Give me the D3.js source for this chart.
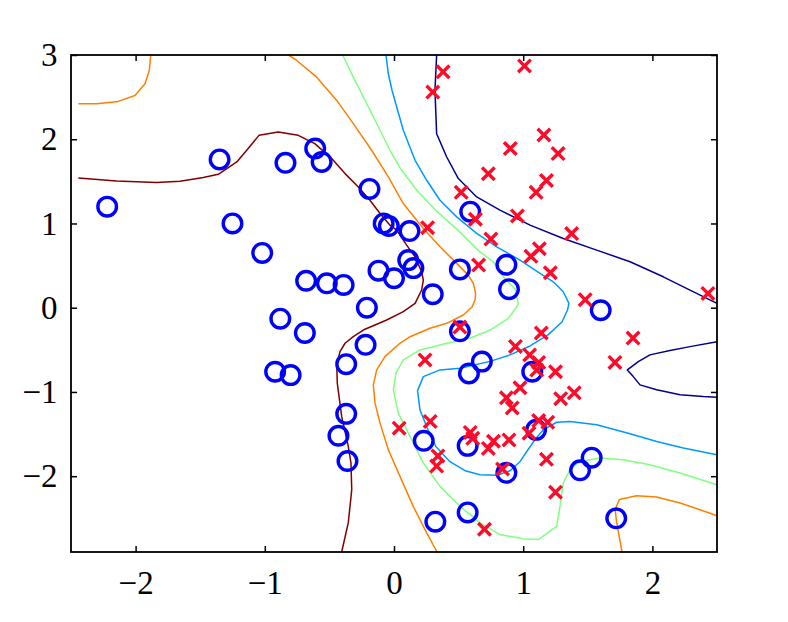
<!DOCTYPE html>
<html><head><meta charset="utf-8">
<script src="https://cdn.jsdelivr.net/npm/d3@7"></script>
<style>html,body{margin:0;padding:0;background:#fff;}</style>
</head><body>
<svg id="chart" width="788" height="622"></svg>
<script>
// ---- data ----
const xTicks = [-2, -1, 0, 1, 2];
const yTicks = [-2, -1, 0, 1, 2, 3];

const classA = [ // blue circles
[-2.22,1.20],[-1.35,1.76],[-1.25,1.00],[-1.02,0.65],[-0.84,1.72],[-0.61,1.89],[-0.56,1.73],
[-0.19,1.41],[-0.08,1.00],[-0.04,0.97],[-0.68,0.32],[-0.52,0.29],[-0.39,0.27],[-0.12,0.44],
[0.00,0.35],[-0.21,0.00],[-0.88,-0.13],[-0.69,-0.30],[-0.22,-0.44],[-0.37,-0.67],[-0.92,-0.76],
[-0.80,-0.80],[-0.37,-1.26],[-0.43,-1.52],[-0.36,-1.82],[0.12,0.91],[0.11,0.565],[0.15,0.47],
[0.30,0.16],[0.51,0.455],[0.59,1.14],[0.87,0.51],[0.89,0.22],[1.60,-0.03],[0.51,-0.28],
[0.68,-0.64],[0.58,-0.78],[1.07,-0.76],[1.10,-1.45],[0.23,-1.58],[0.57,-1.64],[0.87,-1.96],
[1.44,-1.93],[1.53,-1.78],[0.32,-2.54],[0.57,-2.43],[1.72,-2.50]];

const classB = [ // red crosses
[0.38,2.80],[0.30,2.56],[1.01,2.87],[1.16,2.05],[0.90,1.89],[1.27,1.83],[0.73,1.59],[1.18,1.51],
[1.10,1.37],[0.52,1.37],[0.63,1.05],[0.955,1.09],[0.26,0.95],[1.375,0.88],[0.75,0.815],[1.125,0.70],
[1.06,0.61],[0.655,0.506],[1.21,0.415],[1.48,0.095],[2.43,0.17],[0.51,-0.23],[1.14,-0.30],[1.85,-0.36],
[0.94,-0.46],[1.05,-0.56],[1.12,-0.65],[1.105,-0.74],[1.25,-0.76],[1.71,-0.65],[0.24,-0.62],[0.975,-0.95],
[0.87,-1.07],[0.915,-1.19],[1.29,-1.08],[1.395,-1.01],[0.28,-1.35],[0.04,-1.43],[0.59,-1.48],[0.61,-1.55],
[0.77,-1.585],[0.73,-1.67],[0.89,-1.57],[1.045,-1.49],[1.12,-1.34],[1.19,-1.36],[0.34,-1.76],[0.33,-1.88],
[1.18,-1.80],[0.84,-1.915],[1.25,-2.19],[0.70,-2.63]];

const contourMaroon = [[-2.443,1.540],[-2.146,1.505],[-1.837,1.486],[-1.656,1.501],[-1.476,1.545],[-1.360,1.584],
[-1.217,1.730],[-1.140,1.869],[-1.045,2.046],[-0.896,2.085],[-0.741,2.046],[-0.613,1.948],[-0.482,1.770],
[-0.379,1.592],[-0.276,1.434],[-0.186,1.276],[-0.108,1.118],[-0.031,0.980],[0.021,0.921],[0.098,0.743],
[0.163,0.604],[0.214,0.427],[0.227,0.328],[0.214,0.210],[0.163,0.052],[0.072,-0.047],[-0.057,-0.146],
[-0.238,-0.265],[-0.315,-0.344],[-0.379,-0.422],[-0.418,-0.521],[-0.443,-0.679],[-0.439,-0.896],
[-0.405,-1.291],[-0.354,-1.647],[-0.333,-1.844],[-0.327,-2.160],[-0.354,-2.555],[-0.405,-2.9]];

const contourOrangeTL = [[-2.443,2.422],[-2.301,2.422],[-2.134,2.449],[-2.005,2.520],[-1.927,2.659],[-1.894,2.817],[-1.883,3.0]];

const contourOrange = [[-0.818,3.0],[-0.753,2.935],[-0.598,2.737],[-0.443,2.461],[-0.315,2.185],[-0.173,1.869],
[-0.044,1.552],[0.072,1.237],[0.227,0.941],[0.356,0.723],[0.485,0.526],[0.575,0.387],[0.614,0.289],
[0.632,0.171],[0.627,0.091],[0.604,0.008],[0.536,-0.086],[0.408,-0.185],[0.279,-0.244],[0.124,-0.344],
[0.046,-0.422],[-0.070,-0.581],[-0.134,-0.738],[-0.160,-0.916],[-0.147,-1.133],[-0.108,-1.370],
[-0.044,-1.686],[0.046,-2.002],[0.149,-2.358],[0.253,-2.673],[0.333,-2.9]];

const contourOrangeBR = [[1.765,-2.9],[1.724,-2.555],[1.711,-2.398],[1.744,-2.278],[1.878,-2.231],[2.033,-2.246],
[2.214,-2.318],[2.368,-2.398],[2.5,-2.469]];

const contourGreen = [[-0.397,3.0],[-0.315,2.737],[-0.211,2.422],[-0.108,2.107],[-0.031,1.869],[0.046,1.661],
[0.176,1.395],[0.330,1.146],[0.495,0.921],[0.650,0.684],[0.769,0.541],[0.846,0.367],[0.937,0.222],
[0.962,0.052],[0.944,-0.004],[0.885,-0.126],[0.743,-0.265],[0.588,-0.363],[0.408,-0.422],[0.201,-0.501],
[0.072,-0.620],[0.015,-0.777],[-0.005,-0.975],[0.033,-1.251],[0.124,-1.528],[0.227,-1.844],[0.356,-2.121],
[0.511,-2.358],[0.666,-2.555],[0.820,-2.693],[1.001,-2.744],[1.117,-2.752],[1.259,-2.595],[1.285,-2.358],
[1.310,-2.081],[1.362,-1.923],[1.440,-1.825],[1.594,-1.784],[1.775,-1.805],[1.981,-1.864],[2.214,-1.962],[2.5,-2.101]];

const contourBlue = [[-0.062,3.0],[-0.044,2.777],[-0.015,2.579],[0.021,2.382],[0.072,2.106],[0.163,1.750],
[0.253,1.513],[0.356,1.276],[0.485,1.078],[0.640,0.882],[0.795,0.723],[0.975,0.565],[1.130,0.408],
[1.233,0.308],[1.310,0.190],[1.354,0.052],[1.343,-0.027],[1.300,-0.169],[1.192,-0.323],[1.053,-0.454],
[0.898,-0.560],[0.743,-0.637],[0.511,-0.718],[0.356,-0.738],[0.227,-0.818],[0.182,-0.987],[0.201,-1.213],
[0.263,-1.449],[0.325,-1.651],[0.433,-1.828],[0.550,-1.935],[0.666,-1.982],[0.797,-1.988],[0.898,-1.935],
[0.975,-1.828],[1.037,-1.686],[1.091,-1.567],[1.156,-1.449],[1.259,-1.360],[1.362,-1.351],[1.569,-1.390],
[1.827,-1.496],[2.033,-1.588],[2.239,-1.666],[2.5,-1.745]];

const contourNavy = [[0.330,3.0],[0.317,2.580],[0.330,2.066],[0.408,1.789],[0.498,1.533],[0.640,1.315],
[0.820,1.158],[1.053,0.980],[1.310,0.822],[1.569,0.684],[1.827,0.545],[2.084,0.367],[2.291,0.209],[2.5,0.052]];

const contourNavyLow = [[2.5,-0.403],[2.291,-0.462],[2.136,-0.509],[1.981,-0.560],[1.891,-0.640],[1.806,-0.738],
[1.852,-0.818],[1.904,-0.916],[2.033,-0.975],[2.214,-1.034],[2.394,-1.054],[2.5,-1.062]];

const contourSets = [
  {pts: contourMaroon, color: "#800000"},
  {pts: contourOrangeTL, color: "#ff8000"},
  {pts: contourOrange, color: "#ff8000"},
  {pts: contourOrangeBR, color: "#ff8000"},
  {pts: contourGreen, color: "#80ff80"},
  {pts: contourBlue, color: "#0099ff"},
  {pts: contourNavy, color: "#00008f"},
  {pts: contourNavyLow, color: "#00008f"}
];

// ---- drawing ----
const svg = d3.select("#chart");
svg.append("rect").attr("width",788).attr("height",622).attr("fill","#fff");
const x = d3.scaleLinear().domain([-2.5, 2.5]).range([71, 717]);
const y = d3.scaleLinear().domain([-2.9, 3]).range([552, 55]);

const line = d3.line().x(d => x(d[0])).y(d => y(d[1]));
const g = svg.append("g");
g.selectAll("path.contour").data(contourSets).join("path")
  .attr("class","contour").attr("d", d => line(d.pts))
  .attr("fill","none").attr("stroke", d => d.color).attr("stroke-width",1.5)
  .attr("stroke-linejoin","round");

g.selectAll("circle.a").data(classA).join("circle")
  .attr("class","a").attr("cx", d => x(d[0])).attr("cy", d => y(d[1])).attr("r", 9.3)
  .attr("fill","none").attr("stroke","#0000ff").attr("stroke-width",3.4);

const cs = 6.3;
g.selectAll("path.b").data(classB).join("path")
  .attr("class","b")
  .attr("d", d => { const cx = x(d[0]), cy = y(d[1]);
     return `M${cx-cs},${cy-cs}L${cx+cs},${cy+cs}M${cx-cs},${cy+cs}L${cx+cs},${cy-cs}`; })
  .attr("stroke","#ff0a28").attr("stroke-width",3.4).attr("fill","none");

// axes
const font = "'Liberation Serif','Times New Roman',serif";
const fmt = d3.format("d");
const ax = svg.append("g").attr("transform","translate(0,552)")
  .call(d3.axisBottom(x).tickValues(xTicks).tickFormat(fmt).tickSize(-6).tickPadding(18.5).tickSizeOuter(0));
const axTop = svg.append("g").attr("transform","translate(0,55)")
  .call(d3.axisTop(x).tickValues(xTicks).tickSize(-6).tickFormat("").tickSizeOuter(0));
const ay = svg.append("g").attr("transform","translate(71,0)")
  .call(d3.axisLeft(y).tickValues(yTicks).tickFormat(fmt).tickSize(-6).tickPadding(13.5).tickSizeOuter(0));
const ayR = svg.append("g").attr("transform","translate(717,0)")
  .call(d3.axisRight(y).tickValues(yTicks).tickSize(-6).tickFormat("").tickSizeOuter(0));
[ax, axTop, ay, ayR].forEach(a => {
  a.select(".domain").remove();
  a.selectAll(".tick line").attr("stroke","#000").attr("stroke-width",1.5);
  a.selectAll(".tick text").attr("font-family",font).attr("font-size",33).attr("fill","#000");
});
svg.append("rect").attr("x",71).attr("y",55).attr("width",646).attr("height",497)
  .attr("fill","none").attr("stroke","#000").attr("stroke-width",1.8);
</script>
</body></html>
